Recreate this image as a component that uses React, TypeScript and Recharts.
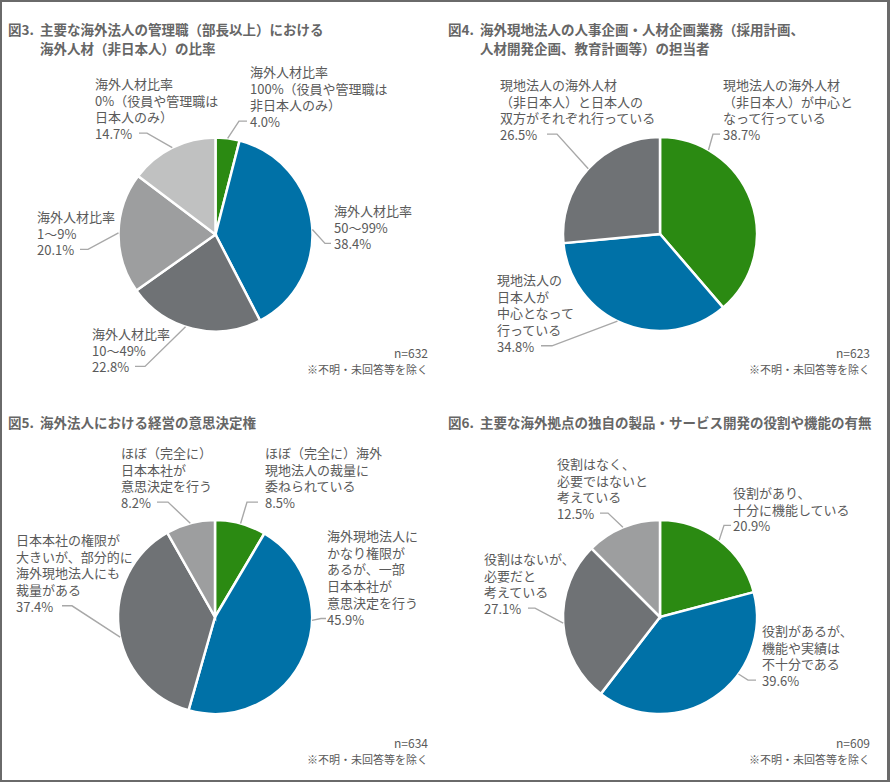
import React from "react";
import { PieChart, Pie, Cell } from "recharts";

const FONT = '"Noto Sans CJK JP", "Noto Sans", sans-serif';
const GREEN = "#2b8a12";
const BLUE = "#0071a7";
const DARK = "#6f7275";
const MID = "#9d9e9f";
const LIGHT = "#c0c1c1";
const TEXT = "#5a5a5a";
const LINE = "#a8a8a8";
const LH = 16.7;
const RAD = Math.PI / 180;

// 図3
const fig3Names = [
  "海外人材比率\n100%（役員や管理職は\n非日本人のみ）",
  "海外人材比率\n50〜99%",
  "海外人材比率\n10〜49%",
  "海外人材比率\n1〜9%",
  "海外人材比率\n0%（役員や管理職は\n日本人のみ）",
];
const fig3Values = [4.0, 38.4, 22.8, 20.1, 14.7];
const fig3Colors = [GREEN, BLUE, DARK, MID, LIGHT];

// 図4
const fig4Names = [
  "現地法人の海外人材\n（非日本人）が中心と\nなって行っている",
  "現地法人の\n日本人が\n中心となって\n行っている",
  "現地法人の海外人材\n（非日本人）と日本人の\n双方がそれぞれ行っている",
];
const fig4Values = [38.7, 34.8, 26.5];
const fig4Colors = [GREEN, BLUE, DARK];

// 図5
const fig5Names = [
  "ほぼ（完全に）海外\n現地法人の裁量に\n委ねられている",
  "海外現地法人に\nかなり権限が\nあるが、一部\n日本本社が\n意思決定を行う",
  "日本本社の権限が\n大きいが、部分的に\n海外現地法人にも\n裁量がある",
  "ほぼ（完全に）\n日本本社が\n意思決定を行う",
];
const fig5Values = [8.5, 45.9, 37.4, 8.2];
const fig5Colors = [GREEN, BLUE, DARK, MID];

// 図6
const fig6Names = [
  "役割があり、\n十分に機能している",
  "役割があるが、\n機能や実績は\n不十分である",
  "役割はないが、\n必要だと\n考えている",
  "役割はなく、\n必要ではないと\n考えている",
];
const fig6Values = [20.9, 39.6, 27.1, 12.5];
const fig6Colors = [GREEN, BLUE, DARK, MID];

// label placement relative to the pie centre:
// x,y = text left / first line centre, ex = elbow x, lx = end of the flat part, at = anchor angle (deg, clockwise from top)
type Lay = { x: number; y: number; ex: number; lx: number; at?: number };

const fig3Layout: Lay[] = [
  { x: 34.5, y: -163.5, ex: 23.5, lx: 31.5 },
  { x: 118.5, y: -24.5, ex: 109.5, lx: 115.5, at: 87 },
  { x: -123.5, y: 98.5, ex: -70.5, lx: -80.5, at: 198 },
  { x: -178.5, y: -18.5, ex: -127.5, lx: -135.5 },
  { x: -120.5, y: -151.5, ex: -68.5, lx: -76.5 },
];
const fig4Layout: Lay[] = [
  { x: 63, y: -150, ex: 53, lx: 60, at: 30 },
  { x: -163, y: 45, ex: -108, lx: -119, at: 206 },
  { x: -160, y: -150, ex: -103, lx: -113 },
];
const fig5Layout: Lay[] = [
  { x: 50, y: -165, ex: 32, lx: 43 },
  { x: 112, y: -82, ex: 106, lx: 111, at: 92 },
  { x: -199, y: -78, ex: -143, lx: -153, at: 258 },
  { x: -94, y: -165, ex: -47, lx: -58 },
];
const fig6Layout: Lay[] = [
  { x: 73, y: -125, ex: 64, lx: 71 },
  { x: 102, y: 13, ex: 88, lx: 96, at: 126 },
  { x: -176, y: -59, ex: -125, lx: -132 },
  { x: -103, y: -154, ex: -52, lx: -60 },
];

function makeLabel(names: string[], layout: Lay[]) {
  return (p: any) => {
    const { cx, cy, midAngle, outerRadius, index, value } = p;
    const L = layout[index];
    const lines = [...names[index].split("\n"), Number(value).toFixed(1) + "%"];
    const ty = cy + L.y;
    const ey = ty + (lines.length - 1) * LH;
    let px: number, py: number;
    if (L.at != null) {
      px = cx + outerRadius * Math.sin(L.at * RAD);
      py = cy - outerRadius * Math.cos(L.at * RAD);
    } else {
      px = cx + outerRadius * Math.cos(-midAngle * RAD);
      py = cy + outerRadius * Math.sin(-midAngle * RAD);
    }
    return (
      <g key={`lbl-${index}`}>
        <polyline
          points={`${px},${py} ${cx + L.ex},${ey} ${cx + L.lx},${ey}`}
          fill="none"
          stroke={LINE}
          strokeWidth={1.4}
        />
        <text x={cx + L.x} y={ty} dominantBaseline="central" fontSize={13} fill={TEXT} fontFamily={FONT}>
          {lines.map((t, i) => (
            <tspan key={i} x={cx + L.x} dy={i === 0 ? 0 : LH}>
              {t}
            </tspan>
          ))}
        </text>
      </g>
    );
  };
}

interface PanelProps {
  left: number;
  top: number;
  fig: string;
  title: string[];
  titleX: number;
  titleY: number;
  names: string[];
  values: number[];
  colors: string[];
  layout: Lay[];
  cx: number;
  cy: number;
  n: number;
  noteRight: number;
}

function Panel(props: PanelProps) {
  const data = props.names.map((name, i) => ({ name, value: props.values[i] }));
  return (
    <div style={{ position: "absolute", left: props.left, top: props.top, width: 445, height: 390 }}>
      <div
        style={{
          position: "absolute",
          left: props.titleX,
          top: props.titleY - 9.5,
          fontFamily: FONT,
          fontSize: 13.5,
          fontWeight: 700,
          lineHeight: "19px",
          color: "#666666",
          whiteSpace: "nowrap",
        }}
      >
        {props.title.map((t, i) => (
          <div key={i} style={{ display: "flex" }}>
            <span style={{ display: "inline-block", width: 32 }}>{i === 0 ? props.fig : ""}</span>
            <span>{t}</span>
          </div>
        ))}
      </div>
      <PieChart width={445} height={390} margin={{ top: 0, right: 0, bottom: 0, left: 0 }}>
        <Pie
          data={data}
          dataKey="value"
          cx={props.cx}
          cy={props.cy}
          outerRadius={97}
          startAngle={90}
          endAngle={-270}
          stroke="#ffffff"
          strokeWidth={2.5}
          labelLine={false}
          label={makeLabel(props.names, props.layout)}
          isAnimationActive={false}
        >
          {data.map((d, i) => (
            <Cell key={d.name} fill={props.colors[i]} />
          ))}
        </Pie>
      </PieChart>
      <div
        style={{
          position: "absolute",
          left: 0,
          width: props.noteRight,
          top: 345,
          textAlign: "right",
          fontFamily: FONT,
          color: TEXT,
          whiteSpace: "nowrap",
        }}
      >
        <div style={{ fontSize: 12, lineHeight: "16px" }}>n={props.n}</div>
        <div style={{ fontSize: 11, lineHeight: "16px" }}>※不明・未回答等を除く</div>
      </div>
    </div>
  );
}

export default function App() {
  return (
    <div style={{ position: "absolute", left: 0, top: 0, width: 890, height: 782, background: "#ffffff", overflow: "hidden" }}>
      <Panel
        left={0}
        top={0}
        fig="図3."
        title={["主要な海外法人の管理職（部長以上）における", "海外人材（非日本人）の比率"]}
        titleX={8}
        titleY={29}
        names={fig3Names}
        values={fig3Values}
        colors={fig3Colors}
        layout={fig3Layout}
        cx={215.5}
        cy={234.5}
        n={632}
        noteRight={428}
      />
      <Panel
        left={445}
        top={0}
        fig="図4."
        title={["海外現地法人の人事企画・人材企画業務（採用計画、", "人材開発企画、教育計画等）の担当者"]}
        titleX={3}
        titleY={29}
        names={fig4Names}
        values={fig4Values}
        colors={fig4Colors}
        layout={fig4Layout}
        cx={215}
        cy={234}
        n={623}
        noteRight={425}
      />
      <Panel
        left={0}
        top={390}
        fig="図5."
        title={["海外法人における経営の意思決定権"]}
        titleX={8}
        titleY={32}
        names={fig5Names}
        values={fig5Values}
        colors={fig5Colors}
        layout={fig5Layout}
        cx={215}
        cy={227}
        n={634}
        noteRight={428}
      />
      <Panel
        left={445}
        top={390}
        fig="図6."
        title={["主要な海外拠点の独自の製品・サービス開発の役割や機能の有無"]}
        titleX={3}
        titleY={32}
        names={fig6Names}
        values={fig6Values}
        colors={fig6Colors}
        layout={fig6Layout}
        cx={215}
        cy={227}
        n={609}
        noteRight={425}
      />
      <div
        style={{
          position: "absolute",
          left: 0,
          top: 0,
          width: 890,
          height: 782,
          boxSizing: "border-box",
          borderStyle: "solid",
          borderColor: "#6a6a6a",
          borderWidth: "2px 3px 2px 2px",
          pointerEvents: "none",
        }}
      />
    </div>
  );
}
